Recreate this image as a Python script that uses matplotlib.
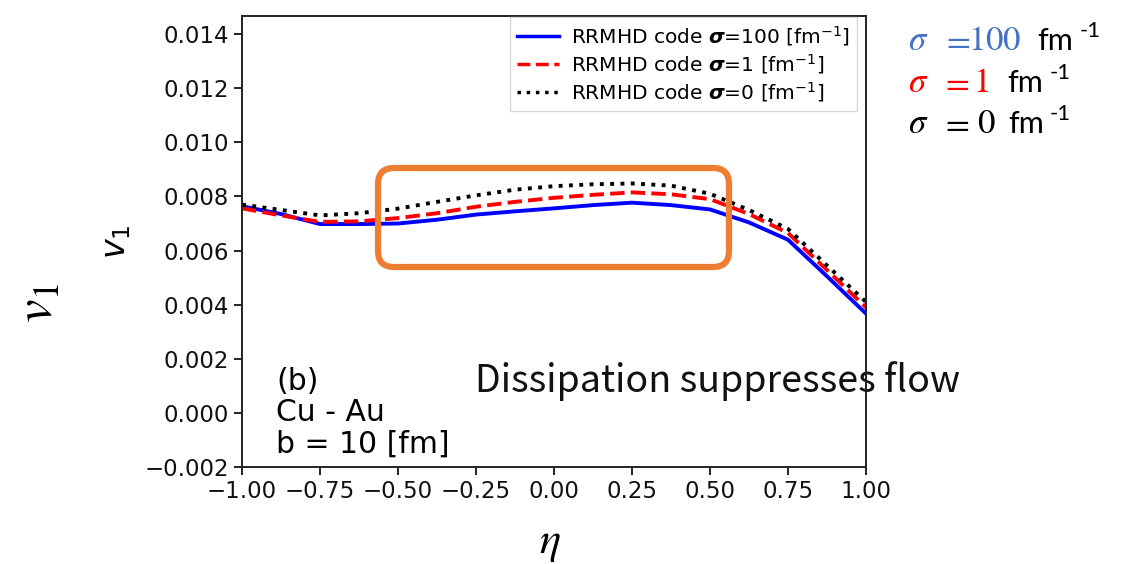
import numpy as np
import matplotlib
matplotlib.use("Agg")
import matplotlib.pyplot as plt
from matplotlib.patches import FancyBboxPatch
from matplotlib.transforms import IdentityTransform

# ---------------- data ----------------
eta = [-1.0, -0.875, -0.75, -0.625, -0.5, -0.375, -0.25, -0.125, 0.0,
       0.125, 0.25, 0.375, 0.5, 0.625, 0.75, 0.875, 1.0]
v1_sigma100 = [0.00764, 0.00735, 0.00698, 0.00698, 0.00700, 0.00714, 0.00733, 0.00745, 0.00756,
               0.00768, 0.00777, 0.00768, 0.00752, 0.00704, 0.00640, 0.00505, 0.00367]
v1_sigma1 = [0.00756, 0.00730, 0.00706, 0.00708, 0.00720, 0.00738, 0.00762, 0.00780, 0.00795,
             0.00806, 0.00815, 0.00808, 0.00790, 0.00735, 0.00665, 0.00528, 0.00390]
v1_sigma0 = [0.00770, 0.00750, 0.00730, 0.00738, 0.00755, 0.00780, 0.00804, 0.00825, 0.00838,
             0.00845, 0.00848, 0.00840, 0.00810, 0.00750, 0.00680, 0.00545, 0.00410]
legend_labels = [r"RRMHD code $\boldsymbol{\sigma}$=100 [fm$^{-1}$]",
                 r"RRMHD code $\boldsymbol{\sigma}$=1 [fm$^{-1}$]",
                 r"RRMHD code $\boldsymbol{\sigma}$=0 [fm$^{-1}$]"]
xticks = [-1.0, -0.75, -0.5, -0.25, 0.0, 0.25, 0.5, 0.75, 1.0]
yticks = [-0.002, 0.0, 0.002, 0.004, 0.006, 0.008, 0.010, 0.012, 0.014]
panel_lines = ["(b)", "Cu - Au", "b = 10 [fm]"]
sigma_values = ["100", "1", "0"]
sigma_colors = ["#4472C4", "#FF0000", "#000000"]
note_text = "Dissipation suppresses flow"

# ---------------- figure ----------------
W, H = 1127, 564
fig = plt.figure(figsize=(W / 100, H / 100), dpi=100)
fig.patch.set_facecolor("white")


def fx(px):
    return px / W


def fy(py):
    return 1 - py / H


ax = fig.add_axes([fx(242), fy(467), fx(866) - fx(242), fy(16) - fy(467)])
ax.set_facecolor("none")
ax.plot(eta, v1_sigma100, color="blue", lw=2.8, label=legend_labels[0])
ax.plot(eta, v1_sigma1, color="red", lw=2.8, ls="--", label=legend_labels[1])
ax.plot(eta, v1_sigma0, color="black", lw=2.8, ls=":", label=legend_labels[2])
ax.set_xlim(-1, 1)
ax.set_ylim(-0.002, 0.01467)
ax.set_xticks(xticks)
ax.set_xticklabels([f"{t:.2f}".replace("-", "\u2212") for t in xticks])
ax.set_yticks(yticks)
ax.set_yticklabels([f"{t:.3f}".replace("-", "\u2212") for t in yticks])
ax.tick_params(labelsize=16.5, length=6, width=1.3, colors="#111111")
for s in ax.spines.values():
    s.set_linewidth(1.4)
    s.set_color("#222222")
ax.set_ylabel(r"$v_1$", fontsize=24, labelpad=8)

leg = ax.legend(loc="upper right", bbox_to_anchor=(fx(857), fy(17)),
                bbox_transform=fig.transFigure, borderaxespad=0,
                fontsize=14.5, handlelength=2.1, handletextpad=0.6,
                labelspacing=0.2, borderpad=0.35, frameon=True, fancybox=False,
                edgecolor="#cccccc")
for line in leg.get_lines():
    line.set_linewidth(2.5)

for i, t in enumerate(panel_lines):
    fig.text(fx(276), fy(381 + 31.5 * i), t, fontsize=21.5, ha="left", va="center")

# ---------------- slide annotations ----------------
fig.text(fx(38), fy(303), r"$v_1$", fontsize=38, rotation=90, ha="center",
         va="center", math_fontfamily="stix")
fig.text(fx(550), fy(542), r"$\eta$", fontsize=32, ha="center", va="center",
         math_fontfamily="stix")

fig.text(fx(475), fy(381), note_text, fontsize=27, ha="left", va="center",
         family=["Noto Sans CJK JP", "DejaVu Sans"], color="#111111", zorder=-1)

box = FancyBboxPatch((378, H - 267), 729 - 378, 267 - 168,
                     boxstyle="round,pad=0,rounding_size=16",
                     transform=IdentityTransform(), fill=False,
                     edgecolor="#ED7D31", lw=4.5, zorder=10)
fig.add_artist(box)

rows_y = [50, 92, 133]
eq_x = [941, 940, 940]
num_x = [968, 973, 977]
fm_x = [1037, 1007, 1008]
sup_x = [1080, 1050, 1050]
for i in range(3):
    c = sigma_colors[i]
    fig.text(fx(908), fy(rows_y[i]), r"$\sigma$", fontsize=25, color=c,
             ha="left", va="baseline", math_fontfamily="stix")
    fig.text(fx(eq_x[i]), fy(rows_y[i]), r"$=$", fontsize=25, color=c,
             ha="left", va="baseline", math_fontfamily="stix")
    fig.text(fx(num_x[i]), fy(rows_y[i]), r"$\mathrm{" + sigma_values[i] + "}$",
             fontsize=25, color=c, ha="left", va="baseline", math_fontfamily="stix")
    fig.text(fx(fm_x[i]), fy(rows_y[i]), "fm", fontsize=22,
             color="black", ha="left", va="baseline", family="Lato")
    fig.text(fx(sup_x[i]), fy(rows_y[i] - 13), "-1", fontsize=16,
             color="black", ha="left", va="baseline", family="Lato")

fig.savefig("out.png", dpi=100)
